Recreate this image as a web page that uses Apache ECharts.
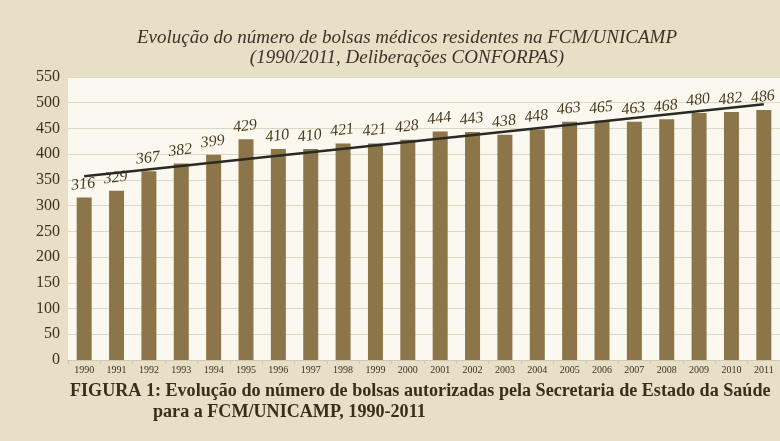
<!DOCTYPE html>
<html>
<head>
<meta charset="utf-8">
<script src="https://cdn.jsdelivr.net/npm/echarts@6/dist/echarts.min.js"></script>
<style>
html,body{margin:0;padding:0;background:#e8dfc7;}
#chart{width:780px;height:441px;}
</style>
</head>
<body>
<div id="chart"></div>
<script>
const years = ['1990','1991','1992','1993','1994','1995','1996','1997','1998','1999','2000','2001','2002','2003','2004','2005','2006','2007','2008','2009','2010','2011'];
const bolsas = [316,329,367,382,399,429,410,410,421,421,428,444,443,438,448,463,465,463,468,480,482,486];
const trend = [357,null,null,null,null,null,null,null,null,null,null,null,null,null,null,null,null,null,null,null,null,497];
const titleLines = ['Evolução do número de bolsas médicos residentes na FCM/UNICAMP','(1990/2011, Deliberações CONFORPAS)'];
const captionLines = ['FIGURA 1: Evolução do número de bolsas autorizadas pela Secretaria de Estado da Saúde','para a FCM/UNICAMP, 1990-2011'];

const chart = echarts.init(document.getElementById('chart'));
const serif = "'Liberation Serif', 'DejaVu Serif', serif";
chart.setOption({
  backgroundColor: '#e8dfc7',
  animation: false,
  title: [
    {text: titleLines.join('\n'), left: 402, top: 23, textAlign: 'center',
     textStyle: {fontFamily: serif, fontStyle: 'italic', fontWeight: 'normal', fontSize: 19, lineHeight: 20, color: '#3a3428'}},
    {text: captionLines[0], left: 65, top: 377,
     textStyle: {fontFamily: serif, fontWeight: 'bold', fontSize: 18.1, color: '#3a2e18'}},
    {text: captionLines[1], left: 148, top: 398,
     textStyle: {fontFamily: serif, fontWeight: 'bold', fontSize: 18.1, color: '#3a2e18'}}
  ],
  grid: {left: 68, right: 0, top: 77, bottom: 81, show: true, backgroundColor: '#fbf9ef', borderWidth: 0},
  xAxis: {
    type: 'category', data: years,
    axisLine: {show: true, lineStyle: {color: '#cfc8b4'}},
    axisTick: {show: true, length: 4, lineStyle: {color: '#cfc8b4'}},
    axisLabel: {fontFamily: serif, fontSize: 10, color: '#3b3322', margin: 5}
  },
  yAxis: {
    type: 'value', min: 0, max: 550, interval: 50,
    axisLine: {show: false}, axisTick: {show: false},
    splitLine: {lineStyle: {color: '#ddd7c6', width: 1}},
    axisLabel: {fontFamily: serif, fontSize: 16, color: '#3b3322', margin: 8}
  },
  series: [
    {type: 'bar', data: bolsas, barWidth: 15,
     itemStyle: {color: '#8c7549'},
     label: {show: true, position: 'top', distance: 5, rotate: 7,
             fontFamily: serif, fontStyle: 'italic', fontSize: 16, color: '#4a3b20'}},
    {type: 'line', data: trend, connectNulls: true, symbol: 'none',
     lineStyle: {color: '#2a2a24', width: 2.5}, z: 5}
  ]
});
</script>
</body>
</html>
